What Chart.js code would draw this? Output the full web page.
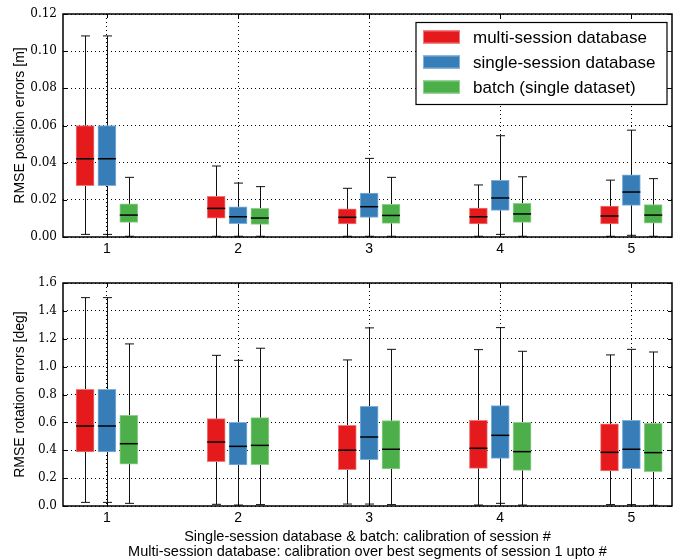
<!DOCTYPE html>
<html>
<head>
<meta charset="utf-8">
<script src="https://cdn.jsdelivr.net/npm/chart.js@4.4.1/dist/chart.umd.min.js"></script>
<style>
  body { margin: 0; background: #fff; }
  #wrap { position: relative; width: 673px; height: 559px; }
  canvas { position: absolute; left: 0; }
  #c1 { top: 0; }
  #c2 { top: 260px; }
</style>
</head>
<body>
<div id="wrap">
  <canvas id="c1" width="673" height="260"></canvas>
  <canvas id="c2" width="673" height="299"></canvas>
</div>
<script>
const sessions = [1, 2, 3, 4, 5];
const seriesLabels = ["multi-session database", "single-session database", "batch (single dataset)"];
const seriesColors = ["#e41a1c", "#377eb8", "#4daf4a"];
const xLabelLines = [
  "Single-session database & batch: calibration of session #",
  "Multi-session database: calibration over best segments of session 1 upto #"
];

// per session: [min, q1, median, q3, max]
const posMulti = [[0.0014, 0.0276, 0.0421, 0.0600, 0.1082], [0.0004, 0.0102, 0.0154, 0.0219, 0.0382], [0.0004, 0.0070, 0.0106, 0.0152, 0.0262], [0.0004, 0.0070, 0.0109, 0.0156, 0.0280], [0.0004, 0.0070, 0.0113, 0.0167, 0.0306]];
const posSingle = [[0.0014, 0.0276, 0.0421, 0.0600, 0.1082], [0.0004, 0.0072, 0.0109, 0.0163, 0.0290], [0.0004, 0.0106, 0.0163, 0.0237, 0.0423], [0.0014, 0.0143, 0.0210, 0.0305, 0.0545], [0.0009, 0.0170, 0.0242, 0.0335, 0.0575]];
const posBatch = [[0.0004, 0.0079, 0.0118, 0.0179, 0.0321], [0.0004, 0.0068, 0.0102, 0.0154, 0.0271], [0.0004, 0.0073, 0.0116, 0.0176, 0.0321], [0.0004, 0.0079, 0.0124, 0.0181, 0.0324], [0.0004, 0.0075, 0.0118, 0.0174, 0.0314]];
const rotMulti = [[0.026, 0.388, 0.574, 0.837, 1.495], [0.012, 0.318, 0.459, 0.627, 1.081], [0.014, 0.261, 0.400, 0.579, 1.048], [0.007, 0.270, 0.414, 0.615, 1.122], [0.010, 0.251, 0.385, 0.589, 1.084]];
const rotSingle = [[0.026, 0.388, 0.574, 0.837, 1.495], [0.007, 0.294, 0.428, 0.600, 1.045], [0.014, 0.333, 0.495, 0.715, 1.278], [0.019, 0.342, 0.507, 0.720, 1.280], [0.010, 0.268, 0.407, 0.615, 1.124]];
const rotBatch = [[0.019, 0.301, 0.447, 0.651, 1.163], [0.010, 0.297, 0.435, 0.634, 1.132], [0.010, 0.266, 0.407, 0.612, 1.124], [0.007, 0.256, 0.390, 0.600, 1.110], [0.005, 0.246, 0.383, 0.593, 1.105]];

const posTicks = [0, 0.02, 0.04, 0.06, 0.08, 0.10, 0.12];
const rotTicks = [0, 0.2, 0.4, 0.6, 0.8, 1.0, 1.2, 1.4, 1.6];

const offsets = [-1 / 6, 0, 1 / 6];
const lighter = ["#f07a7b", "#7fb0dc", "#8fd08c"];

function makeDatasets(groups) {
  return groups.map((stats, k) => ({
    label: seriesLabels[k],
    data: sessions.map((s, i) => ({ x: s + offsets[k], y: [stats[i][1], stats[i][3]] })),
    stats: stats,
    backgroundColor: seriesColors[k],
    borderColor: lighter[k],
    borderWidth: 1,
    borderSkipped: false,
    barThickness: 18,
    grouped: false
  }));
}

const boxPlugin = {
  id: "boxes",
  beforeDatasetsDraw(chart) {
    const ctx = chart.ctx, y = chart.scales.y;
    ctx.save();
    ctx.strokeStyle = "#111";
    ctx.lineWidth = 1;
    chart.data.datasets.forEach((ds, k) => {
      chart.getDatasetMeta(k).data.forEach((bar, i) => {
        const st = ds.stats[i];
        const x = Math.round(bar.x) + 0.5;
        const yMin = y.getPixelForValue(st[0]), yMax = y.getPixelForValue(st[4]);
        ctx.beginPath();
        ctx.moveTo(x, yMin); ctx.lineTo(x, yMax);
        ctx.moveTo(x - 4.5, yMin); ctx.lineTo(x + 4.5, yMin);
        ctx.moveTo(x - 4.5, yMax); ctx.lineTo(x + 4.5, yMax);
        ctx.stroke();
      });
    });
    ctx.restore();
  },
  afterDatasetsDraw(chart) {
    const ctx = chart.ctx, y = chart.scales.y;
    ctx.save();
    ctx.strokeStyle = "#000";
    ctx.lineWidth = 1.5;
    chart.data.datasets.forEach((ds, k) => {
      chart.getDatasetMeta(k).data.forEach((bar, i) => {
        const ym = y.getPixelForValue(ds.stats[i][2]);
        ctx.beginPath();
        ctx.moveTo(bar.x - bar.width / 2, ym);
        ctx.lineTo(bar.x + bar.width / 2, ym);
        ctx.stroke();
      });
    });
    ctx.restore();
  },
  afterDraw(chart, args, opts) {
    const ctx = chart.ctx, a = chart.chartArea;
    const xs = chart.scales.x, ys = chart.scales.y;
    ctx.save();
    ctx.strokeStyle = "#000";
    ctx.lineWidth = 1;
    ctx.beginPath();
    xs.ticks.forEach(t => {
      const px = Math.round(xs.getPixelForValue(t.value)) + 0.5;
      ctx.moveTo(px, a.bottom); ctx.lineTo(px, a.bottom - 4);
      ctx.moveTo(px, a.top); ctx.lineTo(px, a.top + 4);
    });
    ys.ticks.forEach(t => {
      const py = Math.round(ys.getPixelForValue(t.value)) + 0.5;
      ctx.moveTo(a.left, py); ctx.lineTo(a.left + 4, py);
      ctx.moveTo(a.right, py); ctx.lineTo(a.right - 4, py);
    });
    ctx.stroke();
    ctx.lineWidth = 1.5;
    ctx.strokeRect(a.left, a.top, a.right - a.left, a.bottom - a.top);

    if (opts.legend) {
      const lx = 416, ly = 22.5, lw = 251, lh = 82;
      ctx.fillStyle = "#fff";
      ctx.fillRect(lx, ly, lw, lh);
      ctx.lineWidth = 1.2;
      ctx.strokeRect(lx, ly, lw, lh);
      ctx.font = "17px 'Liberation Sans', Arial, sans-serif";
      ctx.textBaseline = "middle";
      chart.data.datasets.forEach((ds, k) => {
        const cy = 37 + k * 25;
        ctx.fillStyle = ds.backgroundColor;
        ctx.fillRect(423, cy - 6.5, 37, 13);
        ctx.strokeStyle = ds.borderColor;
        ctx.lineWidth = 1;
        ctx.strokeRect(423.5, cy - 6, 36, 12);
        ctx.fillStyle = "#000";
        ctx.fillText(ds.label, 473, cy + 1);
      });
    }
    if (opts.xlabel) {
      ctx.fillStyle = "#000";
      ctx.font = "14.5px 'Liberation Sans', Arial, sans-serif";
      ctx.textAlign = "center";
      ctx.textBaseline = "middle";
      const cx = (a.left + a.right) / 2;
      opts.xlabel.forEach((line, i) => ctx.fillText(line, cx, 277 + i * 14.5));
    }
    ctx.restore();
  }
};

function makeChart(id, groups, ticks, decimals, title, padTop, xHeight, extra) {
  return new Chart(document.getElementById(id), {
    type: "bar",
    data: { datasets: makeDatasets(groups) },
    plugins: [boxPlugin],
    options: {
      responsive: false,
      animation: false,
      layout: { padding: { top: padTop, right: 1, left: 0, bottom: 0 } },
      plugins: {
        legend: { display: false },
        tooltip: { enabled: false },
        boxes: extra
      },
      scales: {
        x: {
          type: "linear",
          min: 0.665,
          max: 5.31,
          offset: false,
          afterBuildTicks: s => { s.ticks = sessions.map(v => ({ value: v })); },
          afterFit: s => { s.height = xHeight; },
          grid: { color: "#000", lineWidth: 1, drawTicks: false, offset: false },
          border: { display: false, dash: [1, 3] },
          ticks: {
            color: "#000",
            padding: 4,
            font: { family: "'Liberation Sans', Arial, sans-serif", size: 14 },
            callback: v => String(v)
          }
        },
        y: {
          min: ticks[0],
          max: ticks[ticks.length - 1],
          afterBuildTicks: s => { s.ticks = ticks.map(v => ({ value: v })); },
          afterFit: s => { s.width = 63; },
          grid: { color: "#000", lineWidth: 1, drawTicks: false },
          border: { display: false, dash: [1, 3] },
          ticks: {
            color: "#000",
            padding: 6,
            font: { family: "'DejaVu Serif', serif", size: 12 },
            callback: v => Number(v).toFixed(decimals)
          },
          title: {
            display: true,
            text: title,
            color: "#000",
            padding: { top: 12, bottom: 0 },
            font: { family: "'Liberation Sans', Arial, sans-serif", size: 14 }
          }
        }
      }
    }
  });
}

makeChart("c1", [posMulti, posSingle, posBatch], posTicks, 2, "RMSE position errors [m]", 14, 23, { legend: true });
makeChart("c2", [rotMulti, rotSingle, rotBatch], rotTicks, 1, "RMSE rotation errors [deg]", 23, 53, { xlabel: xLabelLines });
</script>
</body>
</html>
